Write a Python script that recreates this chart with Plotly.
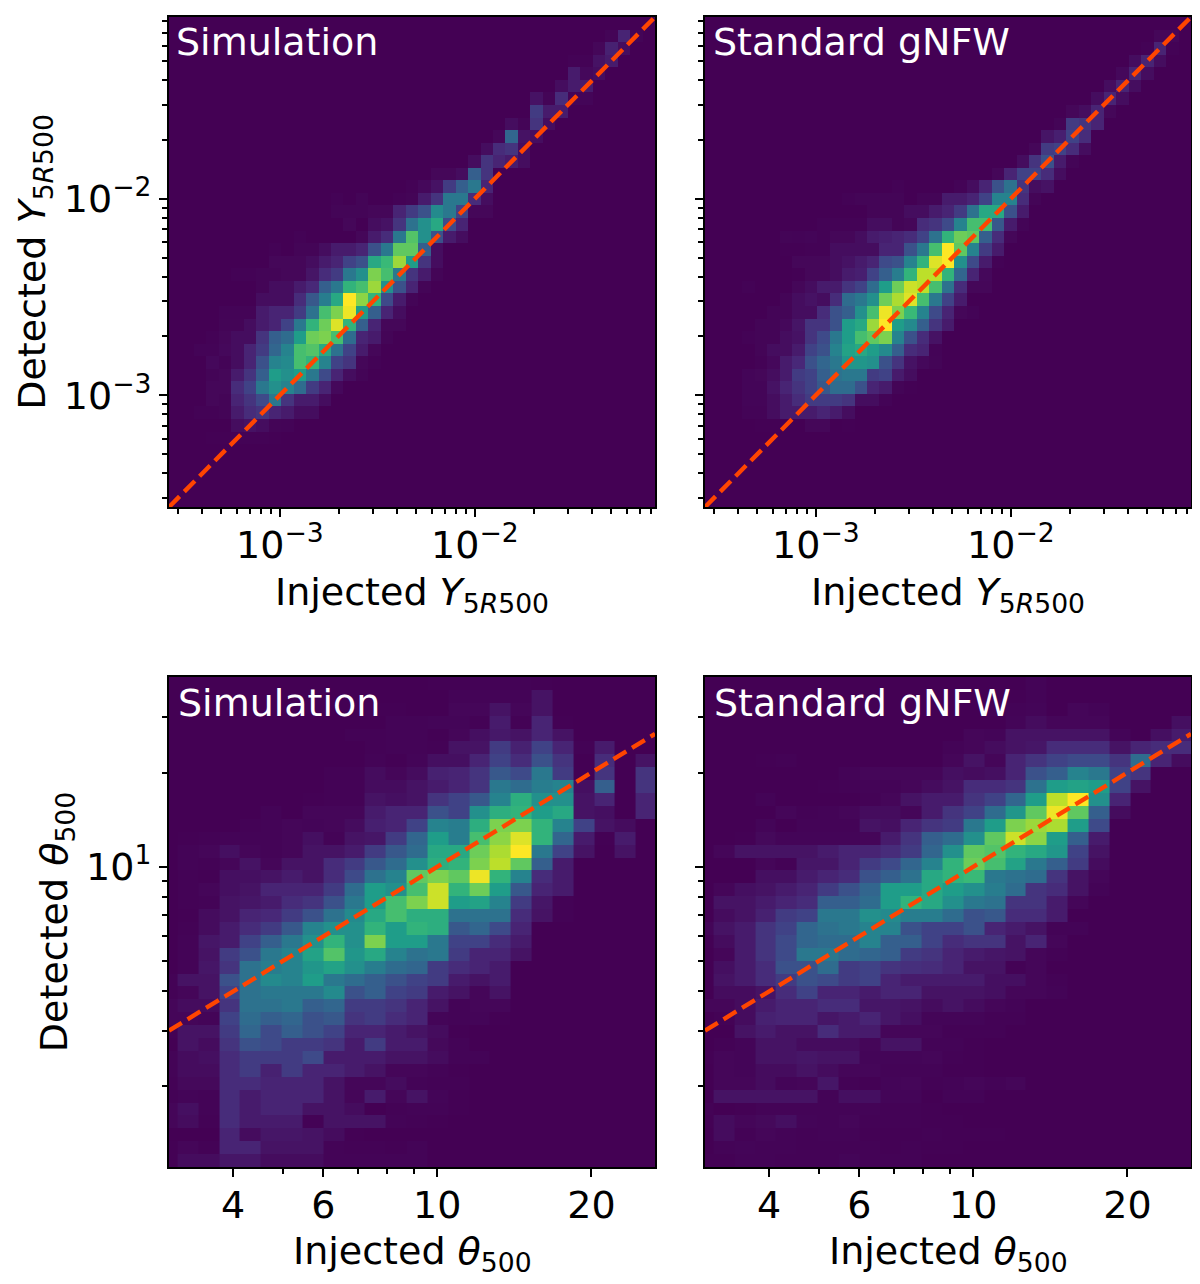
import numpy as np
import plotly.graph_objects as go

# Rows are [row-from-bottom, first column, values...] in colour-scale units (0-20)
Y_SIM = [
[37,35,.5,2,.5],[36,34,.7,1.8,1],[35,32,.3,.3,1.2,1.5],[34,32,1.5,.8,1],[33,31,1,1.5,1.5],
[32,29,1.2,.5,2.5,.6,.6],[31,29,3.5,1.5,1.5],[30,27,1,.5,3,1],[29,26,.7,6.5,1.2,1],
[28,25,1,2.5,3,1],[27,24,1,3,2,1.5,1],[26,21,.7,.7,1,6,3],[25,19,.3,.8,1.2,3.5,6,8,2],
[24,13,.3,0,.5,0,0,.3,.5,1.5,3,8,8,2.5,1],[23,13,.5,.5,.5,.7,.7,2,3.5,5,9.5,8,4,.7,.7],
[22,14,.7,0,1,1.2,3,7.5,10,12,4.5,2],[21,10,.3,0,0,0,0,.7,1.5,2.5,8,14.5,10,5,1.5,1],
[20,8,.3,0,.5,.5,1,1.5,1.5,2,5,8,15,15,6,1],
[19,8,.7,.7,.7,1,1.5,2,4,5,12,13.5,17,11,3,1],
[18,5,.3,.3,.5,.5,.7,.7,1.3,2.5,3.5,8,10,16,14,8,3,1.5,.5],
[17,7,.5,1,1,1.5,2.2,6,8,13,14,17,10,5,2,.5],
[16,7,1,1,1,2.5,5.5,8.5,12,20,16.5,13,4.5,1.5,.5],
[15,4,.4,.4,.4,1.5,2,2,3.5,7.5,14,16,19.5,11,6,2,1],
[14,4,.5,.5,1,1.5,2,4,8,13,15.5,19,13,6,2,.7,.7],
[13,3,.3,.7,1,1,3,6,7,11,15.5,16,14,7,2,1.5,.5],
[12,2,.4,.4,.8,1,2,3.5,6.5,9,14,14.5,12,7.5,4,1.5,.7],
[11,3,.8,.4,1,2,5,9,9.5,14,13,9,4,3,.7,.3],
[10,3,.5,.7,1.5,3,6,11,10,11,8,4.5,2,1,.5],
[9,3,.7,.7,2.5,4,8,10,9,7,3.5,2,.8],
[8,3,.7,.5,2,3,4.5,8,3,1.5,1.5,1],
[7,2,.3,.3,.5,1.5,2.5,3,2,1.5,1,1],
[6,5,1,1.2,1,.5,.4],[5,3,.2,.2,.3,.3,.3,.2],
]
Y_GNFW = [
[37,36,.7,.7],[36,35,.3,2,.3],[35,34,1,2,1],[34,33,.8,2,1],[33,32,1,2,1],[32,31,1,2,1],
[31,29,.7,1,2,.7],[30,28,.5,3.5,3,2],[29,27,1.3,1.7,4,2.5],[28,26,.7,3.5,4,2.5,1],
[27,25,1,3,5,1.5,.5],[26,23,.7,2,4,4,2.5,1],[25,15,.3,0,0,0,0,.4,1,2,5,7.5,3,1,1.2],
[24,11,.3,.5,.5,.5,.5,0,.5,.5,1.5,1.5,2,4,9,9,2.5,.5],
[23,13,.5,.5,.5,1,1,1.5,2,3.5,7.5,12,12,5,1.5],
[22,9,.3,.3,.3,.3,1,1,.5,.7,2.5,3,4.5,9,14,14,5.5,1.5,.5],
[21,6,.5,.4,.6,.3,.7,.7,1,1.5,1.7,2,2.5,4,7.5,13,15.5,15,6,2.5,.7],
[20,6,.2,.2,.3,.3,1,1,1,1,2,2,5,8,14,20,15,9,3.5,1.5],
[19,7,.7,.7,.7,1,1.2,1.5,2,4.5,5,9,13,19,20,10,4.5,1.5,.3],
[18,7,.2,.7,.7,1,1.5,1.7,4,6,8.5,13,18,18,13,6.5,2,.8],
[17,3,.3,0,0,0,.7,1,1.5,1.5,3,4,7,11,15.5,18.5,18,14,7.5,2.5,.7,.7],
[16,6,.5,1,1.2,1,2.5,7,8,10,15.5,17.5,19,14,8,4,1.5],
[15,5,.5,.5,1,1,2.5,5,6,10,14,19.5,16,13.5,9,4.5,2,.7,.4],
[14,4,.5,.5,.8,1.3,3,3,5,11,12,17,20,11,9.5,6,3,1.5],
[13,3,.3,.5,.5,1,1.2,3,4.5,8,11,14,15,16,9,5,2.5,1.2],
[12,4,.5,1,1,1.5,4,5,9,11.5,12,11,9.5,6,2.5,2,.4],
[11,4,.3,.8,1.5,2.2,5,6.5,8,10.5,10.5,10,5,3,1.2,.8,.5],
[10,3,.6,.7,1,1.5,3.5,4,6,7.5,8,8,3.5,4,1.5,1],
[9,3,.6,.6,1.2,2,3,4,5.5,7,7,5,2,1.5,.5,.2],
[8,3,.6,.6,1,1.5,2.5,3.5,3.5,3.5,3,1,1,.4],
[7,3,.4,.4,1,1.5,1.5,1.5,2,1.5,1],
[6,4,.2,.2,0,0,.7,.7,0,.2],
]
THETA_SIM = [
[37,13,.1,.1,.2,.2,.2,.1],[36,14,.3,.3,.3,.3,1],[35,10,.1,.1,0,0,.5,.5,1,.5,1],
[34,11,.3,.3,.4,.4,.2,1.5,.2,2,.1],[33,9,.2,.2,.3,.3,.1,.5,.8,1.3,1,2,1],
[32,10,.2,.3,.3,.2,1,1,3.5,1.8,4,2,.2,1.5],
[31,10,.3,.1,.4,.8,.8,2,4,2.5,5,3,0,2.5,0,1],
[30,8,.2,.2,.7,.5,.7,1.8,2,3,5.5,4.5,8,3.5,0,3,0,3],
[29,8,.2,.2,.7,.7,1,1.5,2,3,8,7,8.5,9,.8,6,0,3],
[28,7,.1,.2,.2,1,.8,1,3,4,5.5,9,12.5,10,10,1,2,0,2],
[27,5,.3,0,.5,.5,.5,1.5,2,2,5,4,10,12.5,13,11,12,1,.8,0,2],
[26,4,.2,.3,.5,.4,.5,.7,1.7,2,4,9,8.5,12.5,16,16,13,9,4,1,.7],
[25,1,.1,.2,.3,.3,.3,.5,.8,.3,1,1.2,3.5,6.5,11,8.5,14,16.5,19,13,6.5,1.5,.1,1.5],
[24,1,.3,.5,.8,.5,.3,.5,1,1,1.5,3.5,5.5,7,12,12,15.5,17.5,20,8,4,1,0,1],
[23,1,.3,.2,.5,1,.5,1,1,2.5,3.5,5.5,7,10,12.5,13,16,18,15,6,1.5],
[22,1,.2,.1,.8,.8,1,1.5,1,2.5,4.5,7.5,9,15,16,15,19.5,13,9,2.5,1.5],
[21,1,.2,.5,.8,1,2,2,2,3.5,7,11,10,14,18.5,13,15.5,11,5.5,2,1.5],
[20,1,.2,.3,1,1.2,1.5,2.5,3,5,8,11,14,16,18.5,11,11.5,9,3.5,1.2,.2],
[19,1,.1,.7,1,2,2.2,3.5,5,7.5,9.5,12,14,12.5,12.5,7.5,7.5,7.5,2.5,1,.2],
[18,1,.2,.7,1.5,2.5,3.5,5.5,9,10,10,13,11,13,12.5,5.5,6.5,4.5,2],
[17,1,.3,1.2,1.5,4,6,8,10,13,10,16,11,11,8,4,4,2.5,1.5],
[16,1,.3,1,3.5,5,8,9,11.5,14.5,10.5,12,9,7.5,8,3.5,2,2,1],
[15,1,.3,1.2,3,7.5,8.5,9,10.5,11.5,10,8.5,7,6.5,3.5,2.5,2,1.5],
[14,0,.2,1,1,5,7.5,9.5,9,11,8,7,6,5,4,3.5,1.5,1,1.5],
[13,0,.2,.5,1,4,7.5,8,8,8,9.5,5,6,4,3.5,1.5,1,.5,1],
[12,0,.5,.7,.7,3,7.5,7.5,8,6,6.5,3.5,3.5,3,2,1,.3,.5,.5],
[11,0,.5,.5,.4,4,7,6,6.5,5,5.5,3,3.5,2.5,2,.4,.3,.4,.1],
[10,0,.1,1,1,3.5,6.5,4.5,6,5,4,2,2,1.5,1,.7,.1],
[9,1,1,.7,3,5,4.5,3.5,3.5,3,1.5,3.5,1.5,1.5,.6,.3],
[8,0,.3,.7,.8,2.5,3.5,3.5,3.5,4.5,1.5,1.5,1.5,1,1,.7,.3,.3],
[7,0,.3,.7,.7,2.5,3.5,1.8,3.5,2,2,1.5,1,.5,.5,.3,.1],
[6,0,.2,.6,.6,2.5,2.5,2,2,2,1,.5,.5,.7,.3,.2,.2],
[5,0,.2,.4,.3,2.5,1.5,2,2,2,1,.5,1.5,.5,1,.4,.1],
[4,0,.5,.8,.3,2.5,1.5,2,2,1,1,.7,0,.2,.3,.3,.1],
[3,0,.5,.7,.2,2.5,1.5,1.5,1.5,.2,1,1,1,.3,.2,.1],
[2,3,2,.7,1.2,1.2,1,.7,.1],
[1,0,.1,.5,.2,2,2,1,1,1,.3,.2,.2,.1,.3],
[0,0,.1,.7,.7,1.2,1.2,.7,.7,.7,.3,.3,.3,.3,.3],
]
THETA_GNFW = [
[37,16,.3],[36,15,.1,.3],[35,14,.2,.3,.4,0,.5,.3],[34,15,.4,.7,.5,.5,.5,0,0,0,.8],
[33,13,.5,.4,1,1,1,1,1,.4,0,.8,1.5],[32,12,.3,.5,.7,1,1.2,2.5,2.5,2.5,1,2,2.5,2.5],
[31,3,.1,.2,0,0,0,0,0,0,0,.5,1,.5,2,3,4,4.5,4.5,3,7,2,.7],
[30,7,.3,.5,.5,.5,.5,.8,.7,.8,2,5,6,9,8,4,3],
[29,6,.1,.2,.3,.3,.5,.7,1,2.5,2.5,3,7.5,11,11.5,11,4,1],
[28,3,.3,0,0,0,0,.2,.5,1,1.5,1.5,3,4,6.5,11,18,20,10,2],
[27,4,.5,.2,.3,.5,.7,.7,.5,1.5,3,4,7,10.5,15,19.5,15,6,.7],
[26,3,.4,0,.3,.3,.3,1,.8,2,3,3.5,8,11,16,17,17.5,11,4.5],
[25,2,.1,.6,.4,.4,.4,.4,.5,1.5,3,6,7,10,15,18.5,16.5,11,6,1.5],
[24,1,.5,1,1,1,1,1.5,2,2,2.5,3.5,6.5,10,15,14.5,13,12,10.5,4,1],
[23,3,.5,.2,1.2,1.2,2,3.5,4.5,6.5,9,13,15.5,14,11.5,8,6,3.5,.7],
[22,3,.8,.8,1.5,2,2.5,5,6,7.5,12,13,13.5,8,7.5,7,3,1,.5],
[21,1,.5,.8,1,1.5,2,3.5,5,6.5,11,11,12,11,10,8.5,7,3,2.5,1,.3],
[20,1,1,1,1.5,2,2.5,6,6,7,11,13,12,10,8,7.5,3,3,1.5,.5],
[19,1,.7,1,1.8,3.5,4,8,8,10,9.5,8.5,8.5,7,5,5.5,2.5,2.5,1.5],
[18,0,.4,1,1.5,3,4,6.5,7.5,8,9,9,5,4,4,5,2,1.5,1,.3,.3],
[17,0,.1,.7,1.5,3,4.5,6.5,7,7,9,6,6,4,2.5,3,3,1,2,.5],
[16,1,.5,1.5,3,4.5,8,8,7,6.5,6,3.5,3,2,1.5,1.2,1,.5,.2],
[15,1,.8,1.5,2.5,5,5,7,3.5,4,3,2.7,2.5,2,1,1,.2,.5],
[14,1,1,1.5,2.5,3.5,5,4.5,3.5,4,2,1.5,1.5,1.5,1.5,.8,.8,.5,.2],
[13,1,.7,.7,1,2.5,4,2,2,1.5,2,2,1,1,1,.8,.5,.5,.3],
[12,0,.5,.5,.7,1.5,2,2,2.5,2.5,1.2,1.2,1,.7,1,.7,.5,.3],
[11,1,.2,.7,1.8,2,2,1.2,1.5,2,1.2,.8,.4,.4,.4,.2,.2],
[10,2,1,1.5,1,1,2.5,1.5,1.5,.5,.5,.5,.2,.2,.2],
[9,1,.2,.4,1,1,.7,.7,.7,.5,1,1,.3,.3,.1],
[8,0,.1,.5,.4,1,1,1.2,1,1,.4,.4,.4,.5,.2,.1],
[7,1,.5,.4,.7,.7,1,.7,.5,.5,.3,.3,.3,.1,.1],
[6,1,.5,.5,.7,.4,.5,1.2,.2,.1,.4,.5,.2,.3,.5,.3,.5],
[5,1,1,1,1,1,1,.3,.8,.8,.4,.4,0,.3,.3],
[4,0,.2,0,.1,.3,.3,.3,.3,.3,.3,.2,.2,.1],
[3,0,.1,.7,.5,.6,.8,.4,.3,.5,.2,.2,.2,.1,.1],
[2,1,.7,.2,.5,.3,.2,.3,.3,.1,.1,.1,.2,.1,.1,.1],
[1,1,.3,.4,.3,.3,.2,.2,.2,.2,.1,.2,.1,.1],
[0,0,.1,.1,.3,.3,.2,.2,.2,.4,.2,.2,.2],
]

Y_RANGE_VALUES = [2.7e-4, 0.084]
THETA_X_RANGE = [3.0, 26.6]
THETA_Y_RANGE = [1.1, 40.4]
THETA_X_EDGE_START = 2.837
THETA_X_STEP = 0.04063

Y_MAJOR = [1e-3, 1e-2]
Y_MINOR = [m*d for d in (1e-4, 1e-3, 1e-2) for m in range(2, 10) if 2.7e-4 <= m*d <= 0.084]
TH_X_TICKS = [4, 6, 10, 20]
TH_X_MINOR = [5, 7, 8, 9]
TH_Y_TICKS = [10]
TH_Y_MINOR = [2, 3, 4, 5, 6, 7, 8, 9, 20, 30]

FONT = "DejaVu Sans"
ORANGE = "#ff4500"
OFF = 8
W, H = 1184, 1268

def grid(rows, nrows, ncols):
    z = np.zeros((nrows, ncols))
    for row in rows:
        r, start, vals = row[0], row[1], row[2:]
        z[r, start:start+len(vals)] = vals
    return z

fig = go.Figure()

def dom_x(a, b):
    return [(a-OFF)/W, (b-OFF)/W]
def dom_y(a, b):
    return [1-(b-OFF)/H, 1-(a-OFF)/H]

def sup(v):
    return "10<sup>\u2212%d</sup>" % round(-np.log10(v))

panels = [
 ("x", "y", Y_SIM, 39, 39, (169, 655), (17, 507), "top", "Simulation", True, 5),
 ("x2", "y2", Y_GNFW, 39, 39, (705, 1191), (17, 507), "top", "Standard gNFW", False, 6),
 ("x3", "y3", THETA_SIM, 38, 24, (169, 655), (677, 1167), "bot", "Simulation", True, 7),
 ("x4", "y4", THETA_GNFW, 38, 24, (705, 1191), (677, 1167), "bot", "Standard gNFW", False, 7),
]
tick_common = dict(ticks="outside", ticklen=8, tickwidth=2, tickcolor="black",
                   showline=True, linecolor="black", linewidth=2, mirror=True,
                   showgrid=False, zeroline=False, type="log",
                   tickfont=dict(family=FONT, size=38, color="black"))
minor_style = dict(ticks="outside", ticklen=5, tickwidth=1.5, tickcolor="black", showgrid=False)

for xa, ya, rows, nr, nc, xd, yd, kind, label, left, lab_dx in panels:
    z = grid(rows, nr, nc)
    if kind == "top":
        lx = np.log10(Y_RANGE_VALUES)
        xe = np.logspace(lx[0], lx[1], nc+1)
        ye = np.logspace(lx[0], lx[1], nr+1)
        xr = list(lx); yr = list(lx)
        line = Y_RANGE_VALUES
        xt, xm, yt, ym = Y_MAJOR, Y_MINOR, Y_MAJOR, Y_MINOR
        xtt = [sup(v) for v in xt]; ytt = [sup(v) for v in yt]
        xtitle = "Injected <i>Y</i><sub>5<i>R</i>500</sub>"
        ytitle = "Detected <i>Y</i><sub>5<i>R</i>500</sub>"
        shown = z * np.clip(z/1.5, 0.4, 1)      # faint wings read slightly too bright
        xstand, ystand, lab_y, xshift = 13, 7, 25, -5
    else:
        xr = list(np.log10(THETA_X_RANGE)); yr = list(np.log10(THETA_Y_RANGE))
        xe = THETA_X_EDGE_START * 10**(THETA_X_STEP*np.arange(nc+1))
        ye = np.logspace(yr[0], yr[1], nr+1)
        line = THETA_X_RANGE
        xt, xm, yt, ym = TH_X_TICKS, TH_X_MINOR, TH_Y_TICKS, TH_Y_MINOR
        xtt = [str(v) for v in xt]; ytt = ["10<sup>1</sup>"]
        xtitle = "Injected <i>\u03b8</i><sub>500</sub>"
        ytitle = "Detected <i>\u03b8</i><sub>500</sub>"
        shown = z * np.clip(z/0.8, 0.6, 1)
        xstand, ystand, lab_y, xshift = 22, 7, 26, -5
    fig.add_trace(go.Heatmap(x=xe, y=ye, z=shown, xaxis=xa, yaxis=ya, colorscale="Viridis",
                             zmin=0, zmax=20, showscale=False, hoverinfo="skip"))
    fig.add_trace(go.Scatter(x=line, y=line, xaxis=xa, yaxis=ya, mode="lines", hoverinfo="skip",
                             line=dict(color=ORANGE, width=4.4, dash="15px,6.7px"), showlegend=False))
    xname = "xaxis" + xa[1:]; yname = "yaxis" + ya[1:]
    xkw = dict(domain=dom_x(*xd), range=xr, anchor=ya, tickmode="array",
               tickvals=xt, ticktext=xtt, ticklabelstandoff=xshift,
               minor=dict(tickmode="array", tickvals=xm, **minor_style), **tick_common)
    if kind == "top":
        xkw["title"] = dict(text=xtitle, standoff=xstand,
                            font=dict(family=FONT, size=38, color="black"))
    else:
        # axis titles get pushed back at the page bottom, so these two are placed directly
        fig.add_annotation(xref="paper", yref="paper", x=((xd[0]+xd[1])/2-OFF)/W, y=1-(1253-OFF)/H,
                           xanchor="center", yanchor="middle", text=xtitle, showarrow=False,
                           font=dict(family=FONT, size=38, color="black"))
    fig.layout[xname] = xkw
    ykw = dict(domain=dom_y(*yd), range=yr, anchor=xa, tickmode="array", tickvals=yt,
               ticktext=ytt if left else [""]*len(yt), showticklabels=left,
               minor=dict(tickmode="array", tickvals=ym, **minor_style), **tick_common)
    if left:
        ykw["title"] = dict(text=ytitle, standoff=ystand, font=dict(family=FONT, size=38, color="black"))
    fig.layout[yname] = ykw
    fig.add_annotation(xref="paper", yref="paper", x=(xd[0]+lab_dx-OFF)/W, y=1-(yd[0]+lab_y-OFF)/H,
                       xanchor="left", yanchor="middle", text=label, showarrow=False,
                       font=dict(family=FONT, size=38, color="white"))

fig.update_layout(width=W, height=H, margin=dict(l=0, r=0, t=0, b=0), showlegend=False,
                  plot_bgcolor="#440154", paper_bgcolor="white", font=dict(family=FONT))
fig.write_html("out.html")
